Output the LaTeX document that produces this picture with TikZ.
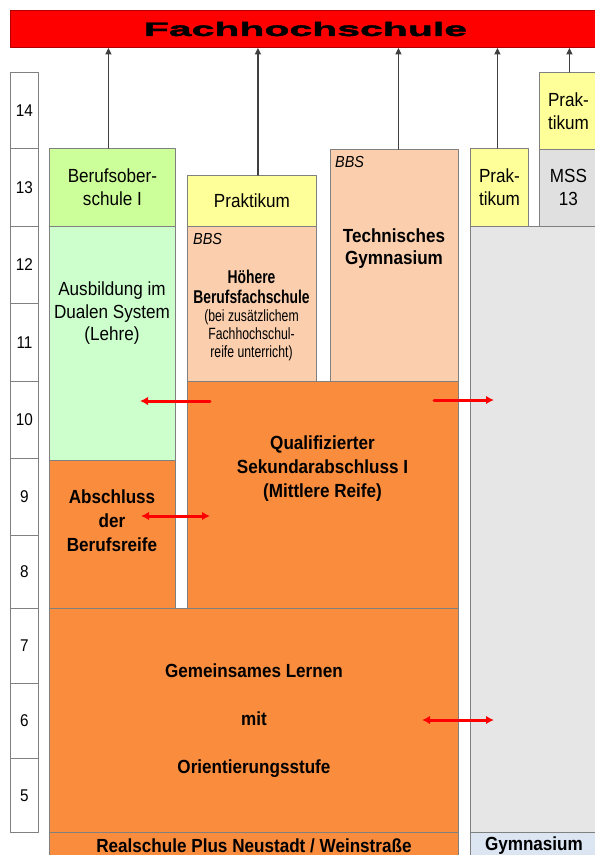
\documentclass[tikz,border=0pt]{standalone}
\usepackage{fontspec}
\setmainfont{Liberation Sans}[FakeStretch=0.9]
\newfontfamily\narrowfont{Liberation Sans}[FakeStretch=0.75]
\newfontfamily\fhfont{Liberation Sans}[FakeStretch=2.1,FakeBold=2.5]
\usetikzlibrary{arrows.meta}

\definecolor{fhred}{HTML}{FF0000}
\definecolor{bosgreen}{HTML}{CCFF99}
\definecolor{dualgreen}{HTML}{CCFFCC}
\definecolor{orng}{HTML}{FA8C3E}
\definecolor{peach}{HTML}{FBCFAE}
\definecolor{praktyellow}{HTML}{FFFF99}
\definecolor{gymgray}{HTML}{E6E6E6}
\definecolor{mssgray}{HTML}{E0E0E0}
\definecolor{gymblue}{HTML}{DCE6F2}
\definecolor{linegray}{HTML}{808080}

\begin{document}
\begin{tikzpicture}[x=1pt, y=-1pt, line join=round, line cap=round,
  box/.style={draw=linegray, line width=0.9pt, anchor=north west, inner sep=0pt,
    align=center, font=\fontsize{19}{23}\selectfont},
  boldbox/.style={box, font=\fontsize{19}{24}\selectfont\bfseries},
  gradecell/.style={box, fill=white, minimum width=28pt, font=\fontsize{17}{20}\selectfont},
  boxtext/.style={anchor=north, inner sep=0pt, align=center},
  bbs/.style={anchor=north west, inner sep=0pt, font=\fontsize{16}{16}\selectfont\itshape},
  uparrow/.style={draw=black!75, line width=1.5pt, -{Triangle[length=6.5pt, width=6pt]}},
  redarrow/.style={draw=red, line width=3pt, -{Latex[length=8pt, width=8.5pt]}},
  reddouble/.style={draw=red, line width=3pt, {Latex[length=8pt, width=8.5pt]}-{Latex[length=8pt, width=8.5pt]}}]

\useasboundingbox (0,0) rectangle (595,855);

% Fachhochschule
\node[box, draw=red!70!black, fill=fhred, minimum width=590pt, minimum height=37pt,
  font=\fhfont\fontsize{19.5}{20}\selectfont\bfseries] (fh) at (10,10) {Fachhochschule};

% grades
\foreach \g/\t/\b in {14/72/148,13/148/226,12/226/303,11/303/381,10/381/458,
                      9/458/535,8/535/608,7/608/683,6/683/758,5/758/832} {
  \pgfmathsetmacro{\h}{\b-\t}
  \node[gradecell, minimum height=\h pt] (g\g) at (10,\t) {\g};
}

% Realschule plus column
\node[box, fill=bosgreen, minimum width=126pt, minimum height=78pt] (bos) at (49,148) {Berufsober-\\schule I};
\node[box, fill=dualgreen, minimum width=126pt, minimum height=234pt] (dual) at (49,226) {};
\node[boxtext, font=\fontsize{19}{22.5}\selectfont] (dualtxt) at (112,282) {Ausbildung im\\Dualen System\\(Lehre)};
\node[box, fill=orng, minimum width=126pt, minimum height=148pt] (abs) at (49,460) {};
\node[boxtext, font=\fontsize{19}{24}\selectfont\bfseries] (abstxt) at (112,490) {Abschluss\\der\\Berufsreife};

\node[box, fill=praktyellow, minimum width=129pt, minimum height=51pt] (prak) at (187,175) {Praktikum};
\node[box, fill=peach, minimum width=129pt, minimum height=155pt] (hbf) at (187,226) {};
\node[bbs] (bbshbf) at (193,233) {BBS};
\node[boxtext, font=\narrowfont\fontsize{18.5}{20}\selectfont\bfseries] (hbfhead) at (251.5,270) {Höhere\\Berufsfachschule};
\node[boxtext, font=\narrowfont\fontsize{16.3}{18}\selectfont] (hbfnote) at (251.5,309) {(bei zusätzlichem\\Fachhochschul-\\reife unterricht)};

\node[box, fill=peach, minimum width=128pt, minimum height=232pt] (tg) at (330,149) {};
\node[bbs] (bbstg) at (335,156) {BBS};
\node[boxtext, font=\fontsize{19}{22}\selectfont\bfseries] (tgtxt) at (394,229) {Technisches\\Gymnasium};

\node[box, fill=orng, minimum width=271pt, minimum height=227pt] (quali) at (187,381) {};
\node[boxtext, font=\fontsize{19}{24}\selectfont\bfseries] (qualitxt) at (322.5,436) {Qualifizierter\\Sekundarabschluss I\\(Mittlere Reife)};

\node[box, fill=orng, minimum width=409pt, minimum height=224pt,
  font=\fontsize{19}{48}\selectfont\bfseries] (gl) at (49,608) {Gemeinsames Lernen\\mit\\Orientierungsstufe};
\node[boldbox, fill=orng, minimum width=409pt, minimum height=26pt] (rsplus) at (49,832) {Realschule Plus Neustadt / Weinstraße};

% Gymnasium column
\node[box, fill=gymgray, minimum width=127pt, minimum height=606pt] (gym) at (470,226) {};
\node[boldbox, fill=gymblue, minimum width=127pt, minimum height=26pt] (gymlbl) at (470,832) {Gymnasium};
\node[box, fill=praktyellow, minimum width=58pt, minimum height=78pt] (prakgym) at (470,148) {Prak-\\tikum};
\node[box, fill=mssgray, minimum width=58pt, minimum height=77pt] (mss) at (539,149) {MSS\\13};
\node[box, fill=praktyellow, minimum width=58pt, minimum height=77pt] (prakmss) at (539,72) {Prak-\\tikum};

% arrows to Fachhochschule
\coordinate (bosup) at ([xshift=-4pt]bos.north);
\coordinate (prakup) at ([xshift=6pt]prak.north);
\coordinate (tgup) at ([xshift=4pt]tg.north);
\coordinate (prakgymup) at ([xshift=-2pt]prakgym.north);
\coordinate (prakmssup) at ([xshift=1pt]prakmss.north);
\foreach \c in {bosup,prakup,tgup,prakgymup,prakmssup}
  \draw[uparrow] (\c) -- (\c |- fh.south);

% transitions
\coordinate (r1a) at (210,401);
\coordinate (r1b) at (140,401);
\coordinate (r2a) at (434,400);
\coordinate (r2b) at (494,400);
\coordinate (r3a) at (141,516);
\coordinate (r3b) at (210,516);
\coordinate (r4a) at (422,720);
\coordinate (r4b) at (494,720);
\draw[redarrow] (r1a) -- (r1b);
\draw[redarrow] (r2a) -- (r2b);
\draw[reddouble] (r3a) -- (r3b);
\draw[reddouble] (r4a) -- (r4b);
\end{tikzpicture}
\end{document}
